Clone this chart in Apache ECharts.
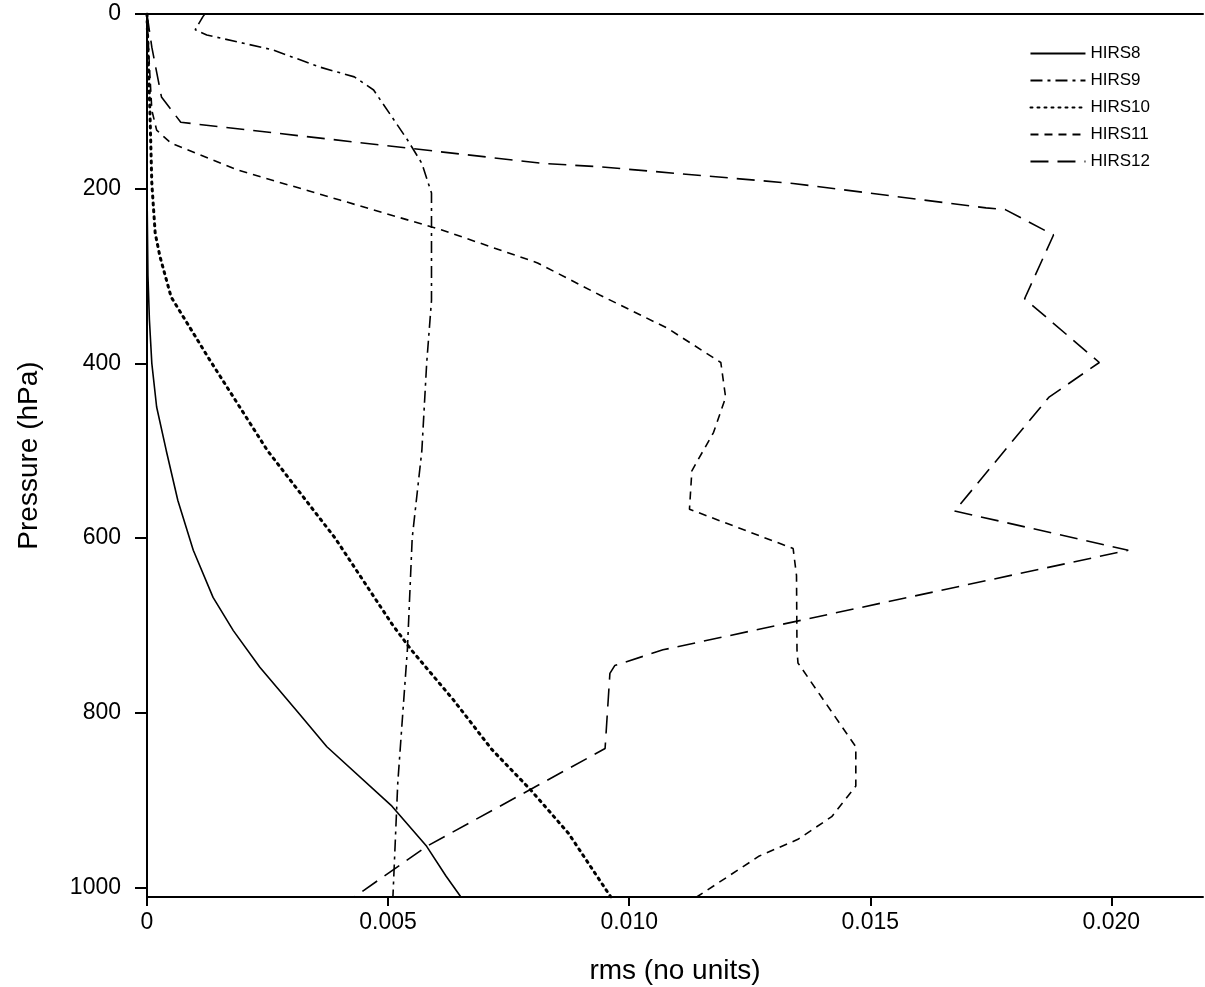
<!DOCTYPE html>
<html>
<head>
<meta charset="utf-8">
<script src="https://cdn.jsdelivr.net/npm/echarts@6/dist/echarts.min.js"></script>
<style>
html, body { margin: 0; padding: 0; background: #fff; }
#main { width: 1205px; height: 987px; }
</style>
</head>
<body>
<div id="main"></div>
<script>
// 数据: [rms, pressure]
var seriesNames = ['HIRS8', 'HIRS9', 'HIRS10', 'HIRS11', 'HIRS12'];

var hirs8 = [[0,0],[0,200],[0.00002,300],[0.00005,350],[0.0001,400],[0.0002,450],[0.0004,500],
	[0.00064,557],[0.00096,614],[0.00137,668],[0.00179,706],[0.00234,748],[0.00317,802],
	[0.00373,839],[0.00508,907],[0.0058,953],[0.0062,987],[0.00651,1011]];
var hirs9 = [[0.0012,0],[0.00116,3],[0.001,18],[0.00124,24],[0.0026,41],[0.0036,61],[0.0043,72],
	[0.0047,87],[0.0054,144],[0.0057,171],[0.0059,205],[0.0059,251],[0.0059,328],[0.0058,400],
	[0.0057,500],[0.0055,600],[0.0054,728],[0.0053,804],[0.0052,881],[0.0051,1011]];
var hirs10 = [[0,0],[0.00003,60],[0.00006,110],[0.0001,194],[0.00017,251],[0.00027,278],[0.0005,324],
	[0.0013,396],[0.0025,500],[0.0039,600],[0.0051,700],[0.00548,728],[0.00635,785],[0.00715,842],
	[0.00795,888],[0.00874,938],[0.00962,1011]];
var hirs11 = [[0,0],[0.00005,60],[0.0001,110],[0.0002,133],[0.0005,148],[0.0019,179],[0.004,213],
	[0.0061,247],[0.0081,285],[0.0094,322],[0.0108,360],[0.0119,399],[0.012,439],[0.01175,479],
	[0.0113,523],[0.01125,567],[0.0134,612],[0.01347,643],[0.01348,728],[0.0135,743],[0.0147,839],
	[0.0147,884],[0.0142,919],[0.0135,945],[0.0127,964],[0.0114,1011]];
var hirs12 = [[0,0],[0.0001,38],[0.0003,95],[0.0007,124],[0.0082,171],[0.0094,175],[0.0134,194],
	[0.0174,222],[0.0178,224],[0.0188,253],[0.0182,326],[0.01975,399],[0.0187,439],[0.01675,569],
	[0.02035,614],[0.0107,728],[0.0097,746],[0.0096,755],[0.0095,841],[0.0058,953],[0.0043,1011]];

var dashes = ['solid', [12, 5, 3, 5], [2, 5], [8, 6], [18, 9]];
var widths = [1.6, 1.6, 3, 1.6, 1.6];
var datas = [hirs8, hirs9, hirs10, hirs11, hirs12];

var chart = echarts.init(document.getElementById('main'));
var font = 'Liberation Sans';

var series = [];
for (var i = 0; i < datas.length; i++) {
	series.push({
		name: seriesNames[i],
		type: 'line',
		symbol: 'none',
		showSymbol: false,
		data: datas[i],
		lineStyle: { color: '#000', width: widths[i], type: dashes[i], cap: i == 2 ? 'round' : 'butt' },
		itemStyle: { color: '#000' }
	});
}

chart.setOption({
	animation: false,
	grid: { left: 147, right: 2, top: 14, bottom: 90, containLabel: false, outerBoundsMode: 'none' },
	legend: {
		orient: 'vertical',
		right: 50,
		top: 40,
		itemWidth: 55,
		itemHeight: 14,
		itemGap: 10,
		itemStyle: { opacity: 0 },
		textStyle: { fontFamily: font, fontSize: 17, color: '#000' },
		data: seriesNames
	},
	xAxis: [{
		type: 'value',
		position: 'bottom',
		min: 0,
		max: 0.0219,
		interval: 0.005,
		name: 'rms (no units)',
		nameLocation: 'middle',
		nameGap: 60,
		nameTextStyle: { fontFamily: font, fontSize: 28, color: '#000' },
		axisLine: { show: true, onZero: false, lineStyle: { color: '#000', width: 2 } },
		axisTick: { show: true, inside: false, length: 9, lineStyle: { color: '#000', width: 2 } },
		axisLabel: {
			fontFamily: font, fontSize: 23, color: '#000', margin: 14, showMaxLabel: false,
			formatter: function(v) { return v === 0 ? '0' : v.toFixed(3); }
		},
		splitLine: { show: false }
	}, {
		type: 'value',
		position: 'top',
		min: 0,
		max: 0.0219,
		axisLine: { show: true, onZero: false, lineStyle: { color: '#000', width: 2 } },
		axisTick: { show: false },
		axisLabel: { show: false },
		splitLine: { show: false }
	}],
	yAxis: {
		type: 'value',
		inverse: true,
		min: 0,
		max: 1011,
		interval: 200,
		name: 'Pressure (hPa)',
		nameLocation: 'middle',
		nameGap: 104,
		nameTextStyle: { fontFamily: font, fontSize: 28, color: '#000' },
		axisLine: { show: true, onZero: false, lineStyle: { color: '#000', width: 2 } },
		axisTick: { show: true, length: 12, lineStyle: { color: '#000', width: 2 } },
		axisLabel: {
			fontFamily: font, fontSize: 23, color: '#000', margin: 26, showMaxLabel: false,
			formatter: function(v) { return String(v); }
		},
		splitLine: { show: false }
	},
	series: series
});
</script>
</body>
</html>
